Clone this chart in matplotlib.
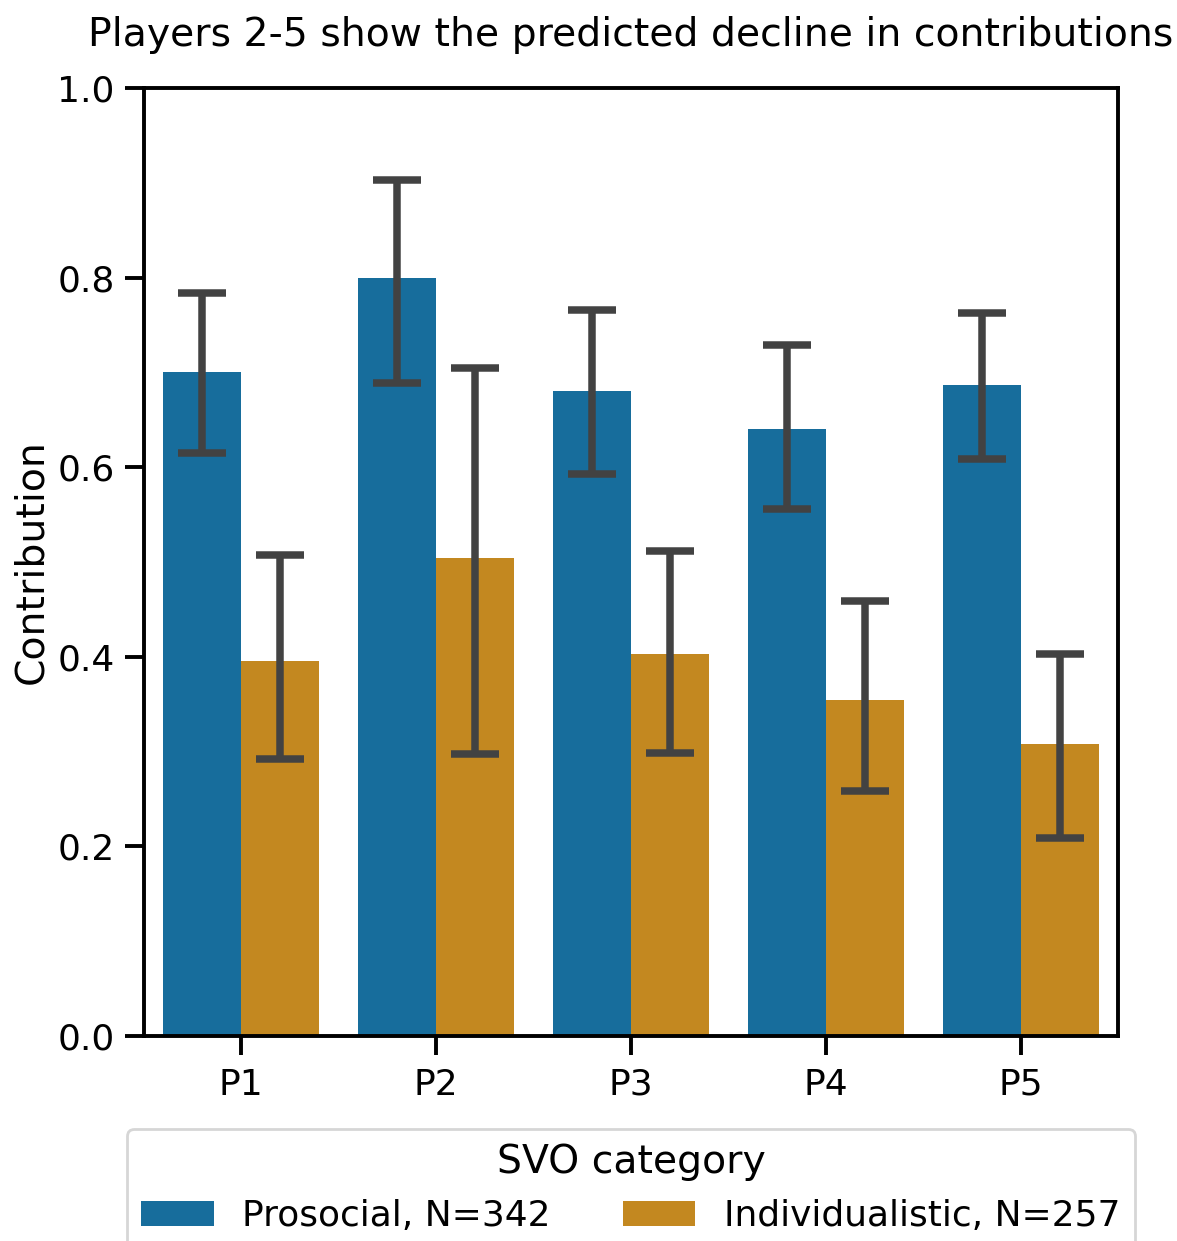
import numpy as np
import matplotlib
matplotlib.use('Agg')
import matplotlib.pyplot as plt
import seaborn as sns

# mean contributions and 95% CI bounds
players = ['P1', 'P2', 'P3', 'P4', 'P5']
groups = ['Prosocial, N=342', 'Individualistic, N=257']

prosocial_mean = [0.700, 0.800, 0.680, 0.640, 0.687]
prosocial_lo = [0.615, 0.689, 0.593, 0.556, 0.609]
prosocial_hi = [0.784, 0.903, 0.766, 0.729, 0.763]

individ_mean = [0.396, 0.504, 0.403, 0.354, 0.308]
individ_lo = [0.292, 0.297, 0.299, 0.258, 0.209]
individ_hi = [0.507, 0.705, 0.512, 0.459, 0.403]

sns.set_theme(context='poster', style='ticks', font_scale=1.18)
plt.rcParams['font.family'] = ['DejaVu Sans']
plt.rcParams['text.color'] = 'black'
plt.rcParams['axes.labelcolor'] = 'black'
plt.rcParams['axes.edgecolor'] = 'black'
plt.rcParams['xtick.color'] = 'black'
plt.rcParams['ytick.color'] = 'black'
plt.rcParams['axes.linewidth'] = 2.8
plt.rcParams['xtick.major.width'] = 2.8
plt.rcParams['ytick.major.width'] = 2.8
plt.rcParams['xtick.major.size'] = 14
plt.rcParams['ytick.major.size'] = 14
plt.rcParams['xtick.major.pad'] = 9
plt.rcParams['ytick.major.pad'] = 7

pal = sns.color_palette('colorblind')
colors = [sns.desaturate(pal[0], 0.75), sns.desaturate(pal[1], 0.75)]

fig = plt.figure(figsize=(11.77, 12.41), dpi=100)
ax = fig.add_axes([0.1223, 0.1652, 0.8276, 0.7639])

x = np.arange(len(players))
w = 0.4
series = [(prosocial_mean, prosocial_lo, prosocial_hi),
          (individ_mean, individ_lo, individ_hi)]
for i, (m, lo, hi) in enumerate(series):
    m = np.array(m)
    pos = x - w / 2 + i * w
    ax.bar(pos, m, width=w, color=colors[i], label=groups[i],
           linewidth=0, zorder=2)
    err = np.vstack([m - np.array(lo), np.array(hi) - m])
    ax.errorbar(pos, m, yerr=err, fmt='none', ecolor='#424242',
                elinewidth=5.4, capsize=17.3, capthick=5.4, zorder=3)

ax.set_xlim(-0.5, len(players) - 0.5)
ax.set_ylim(0, 1.0)
ax.set_xticks(x)
ax.set_xticklabels(players)
ax.set_yticks([0.0, 0.2, 0.4, 0.6, 0.8, 1.0])
ax.set_ylabel('Contribution', labelpad=5)
ax.set_title('Players 2-5 show the predicted decline in contributions', pad=30)

ax.legend(title='SVO category', ncol=2, loc='upper center',
          bbox_to_anchor=(0.5, -0.079), frameon=True)

fig.savefig('out.png', dpi=100)
